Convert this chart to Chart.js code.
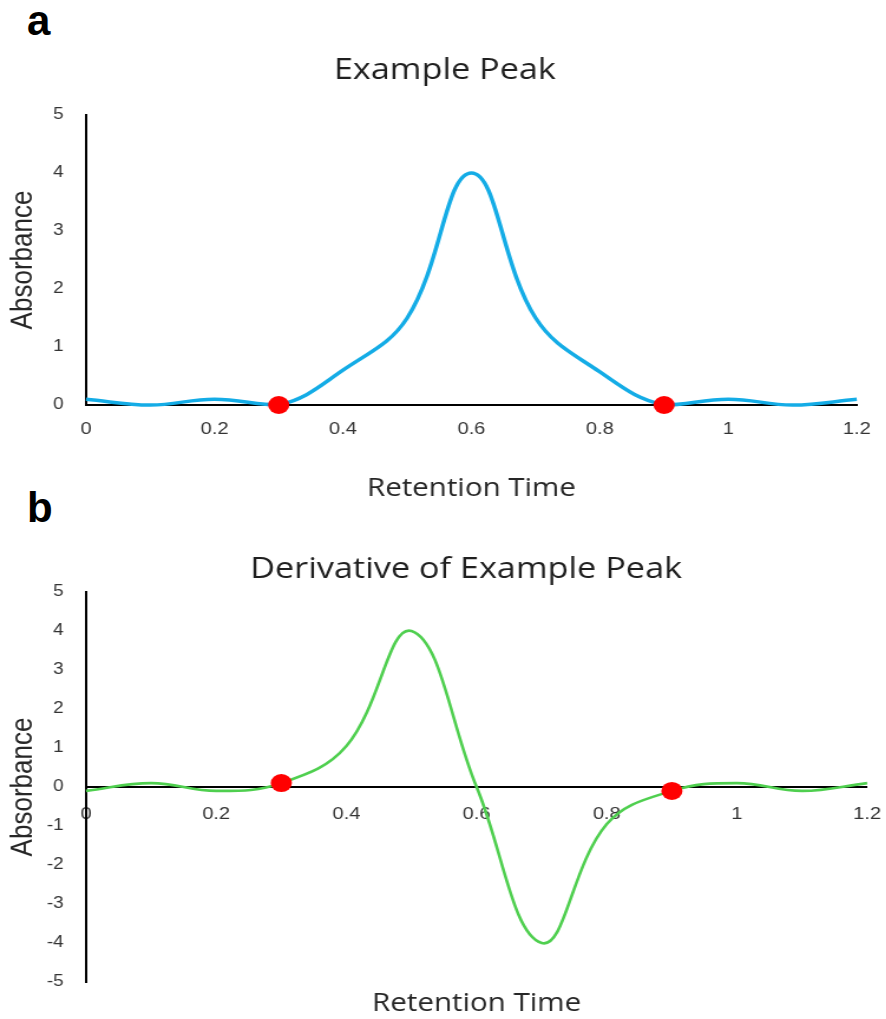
<!DOCTYPE html>
<html>
<head>
<meta charset="utf-8">
<script src="https://cdn.jsdelivr.net/npm/chart.js@4.4.1/dist/chart.umd.min.js"></script>
<style>
  html, body { margin: 0; padding: 0; background: #fff; overflow: hidden; }
  body { width: 886px; height: 1019px; position: relative; }
  /* the original figure is stretched sideways a little, so the panels are too */
  .panel { position: absolute; left: 0; transform-origin: 0 0; transform: scaleX(1.18); }
  #wrapA { top: 0; width: 754px; height: 510px; }
  #wrapB { top: 510px; width: 790px; height: 509px; }
  .tag { position: absolute; left: 27px; font: bold 42px "Liberation Sans", Arial, sans-serif; line-height: 1; color: #000; }
</style>
</head>
<body>
<div class="tag" style="top:0px">a</div>
<div class="tag" style="top:487px">b</div>
<div class="panel" id="wrapA"><canvas id="peak"></canvas></div>
<div class="panel" id="wrapB"><canvas id="deriv"></canvas></div>
<script>
const retentionTime = [0, 0.1, 0.2, 0.3, 0.4, 0.5, 0.6, 0.7, 0.8, 0.9, 1.0, 1.1, 1.2];
const peakAbs  = [0.1, 0, 0.1, 0, 0.6, 1.5, 4.0, 1.5, 0.57, 0, 0.1, 0, 0.1];
const derivAbs = [-0.1, 0.1, -0.1, 0.1, 1.05, 4.0, 0, -4.0, -0.95, -0.1, 0.1, -0.1, 0.1];

// red markers where the peak starts and ends
const markTime = [0.3, 0.9];
const peakMarkAbs = [0, 0];
const derivMarkAbs = [0.1, -0.1];

const timeTicks = [0, 0.2, 0.4, 0.6, 0.8, 1, 1.2];
const peakTicks = [0, 1, 2, 3, 4, 5];
const derivTicks = [-5, -4, -3, -2, -1, 0, 1, 2, 3, 4, 5];

Chart.defaults.font.family = "'Liberation Sans', Arial, sans-serif";
Chart.defaults.color = '#404040';

function toPoints(xs, ys) {
    return xs.map((x, i) => ({x: x, y: ys[i]}));
}

function setTicks(list) {
    return (scale) => { scale.ticks = list.map((v) => ({value: v})); };
}

function yScale(min, max, ticks) {
    return {
        type: 'linear',
        position: 'left',
        min: min,
        max: max,
        afterBuildTicks: setTicks(ticks),
        afterFit: (scale) => { scale.width = 72.9; },
        grid: {display: false, drawTicks: false},
        border: {display: true, color: '#000', width: 2},
        ticks: {padding: 19, color: '#333', font: {size: 16}, callback: (v) => String(v)},
        title: {
            display: true,
            text: 'Absorbance',
            color: '#262626',
            font: {size: 26},
            padding: {top: 4, bottom: 0},
        },
    };
}

// empty box on the right: keeps the plot narrower than the title area
function rightGap(width) {
    return {
        type: 'linear',
        position: 'right',
        afterFit: (scale) => { scale.width = width; },
        grid: {display: false, drawTicks: false},
        border: {display: false},
        ticks: {display: false},
    };
}

function markers(ys) {
    return {
        data: toPoints(markTime, ys),
        yAxisID: 'y',
        showLine: false,
        pointRadius: 9,
        pointBackgroundColor: '#ff0000',
        pointBorderWidth: 0,
        clip: false,
    };
}

function curve(ys, color, width) {
    return {
        data: toPoints(retentionTime, ys),
        yAxisID: 'y',
        showLine: true,
        borderColor: color,
        borderWidth: width,
        tension: 0.4,
        pointRadius: 0,
        fill: false,
        clip: false,
    };
}

function example_peak() {
    const ctx = document.getElementById('peak').getContext('2d');
    new Chart(ctx, {
        type: 'scatter',
        data: {
            datasets: [
                markers(peakMarkAbs),
                curve(peakAbs, '#14ace6', 3.5),
            ]
        },
        options: {
            events: [],
            animation: false,
            responsive: true,
            maintainAspectRatio: false,
            layout: {padding: 0},
            scales: {
                x: {
                    type: 'linear',
                    min: 0,
                    max: 1.2,
                    afterBuildTicks: setTicks(timeTicks),
                    afterFit: (scale) => {
                        scale.height = 105;
                        scale.paddingLeft = 0;
                        scale.paddingRight = 0;
                    },
                    grid: {display: false, drawTicks: false},
                    border: {display: true, color: '#000', width: 2},
                    ticks: {padding: 14, color: '#333', font: {size: 17}, maxRotation: 0, callback: (v) => String(v)},
                    title: {
                        display: true,
                        text: 'Retention Time',
                        color: '#262626',
                        font: {family: "'Open Sans', sans-serif", size: 25},
                        padding: {top: 0, bottom: 6},
                    },
                },
                y: yScale(0, 5, peakTicks),
                gap: rightGap(27.9),
            },
            plugins: {
                legend: {display: false},
                tooltip: {enabled: false},
                title: {
                    display: true,
                    text: 'Example Peak',
                    color: '#1f1f1f',
                    font: {family: "'Open Sans', sans-serif", size: 29, weight: 'normal'},
                    padding: {top: 53, bottom: 27.2},
                },
            }
        }
    });
}

function derivative_peak() {
    const ctx = document.getElementById('deriv').getContext('2d');
    new Chart(ctx, {
        type: 'scatter',
        data: {
            datasets: [
                markers(derivMarkAbs),
                curve(derivAbs, '#4fcf4f', 2.6),
            ]
        },
        options: {
            events: [],
            animation: false,
            responsive: true,
            maintainAspectRatio: false,
            layout: {padding: 0},
            scales: {
                x: {
                    type: 'linear',
                    position: {y: 0},
                    min: 0,
                    max: 1.2,
                    afterBuildTicks: setTicks(timeTicks),
                    afterFit: (scale) => {
                        scale.paddingLeft = 0;
                        scale.paddingRight = 0;
                    },
                    grid: {display: false, drawTicks: false},
                    border: {display: true, color: '#000', width: 2},
                    ticks: {padding: 17, color: '#333', font: {size: 17}, maxRotation: 0, callback: (v) => String(v)},
                    title: {display: false},
                },
                y: yScale(-5, 5, derivTicks),
                gap: rightGap(55.1),
            },
            plugins: {
                legend: {display: false},
                tooltip: {enabled: false},
                title: {
                    display: true,
                    text: 'Derivative of Example Peak',
                    color: '#1f1f1f',
                    font: {family: "'Open Sans', sans-serif", size: 29, weight: 'normal'},
                    padding: {top: 42.6, bottom: 4.6},
                },
                // x axis sits on y = 0, so its title goes below the plot as a subtitle
                subtitle: {
                    display: true,
                    position: 'bottom',
                    fullSize: false,
                    text: 'Retention Time',
                    color: '#262626',
                    font: {family: "'Open Sans', sans-serif", size: 25},
                    padding: {top: 7, bottom: 0},
                },
            }
        }
    });
}

example_peak();
derivative_peak();
</script>
</body>
</html>
